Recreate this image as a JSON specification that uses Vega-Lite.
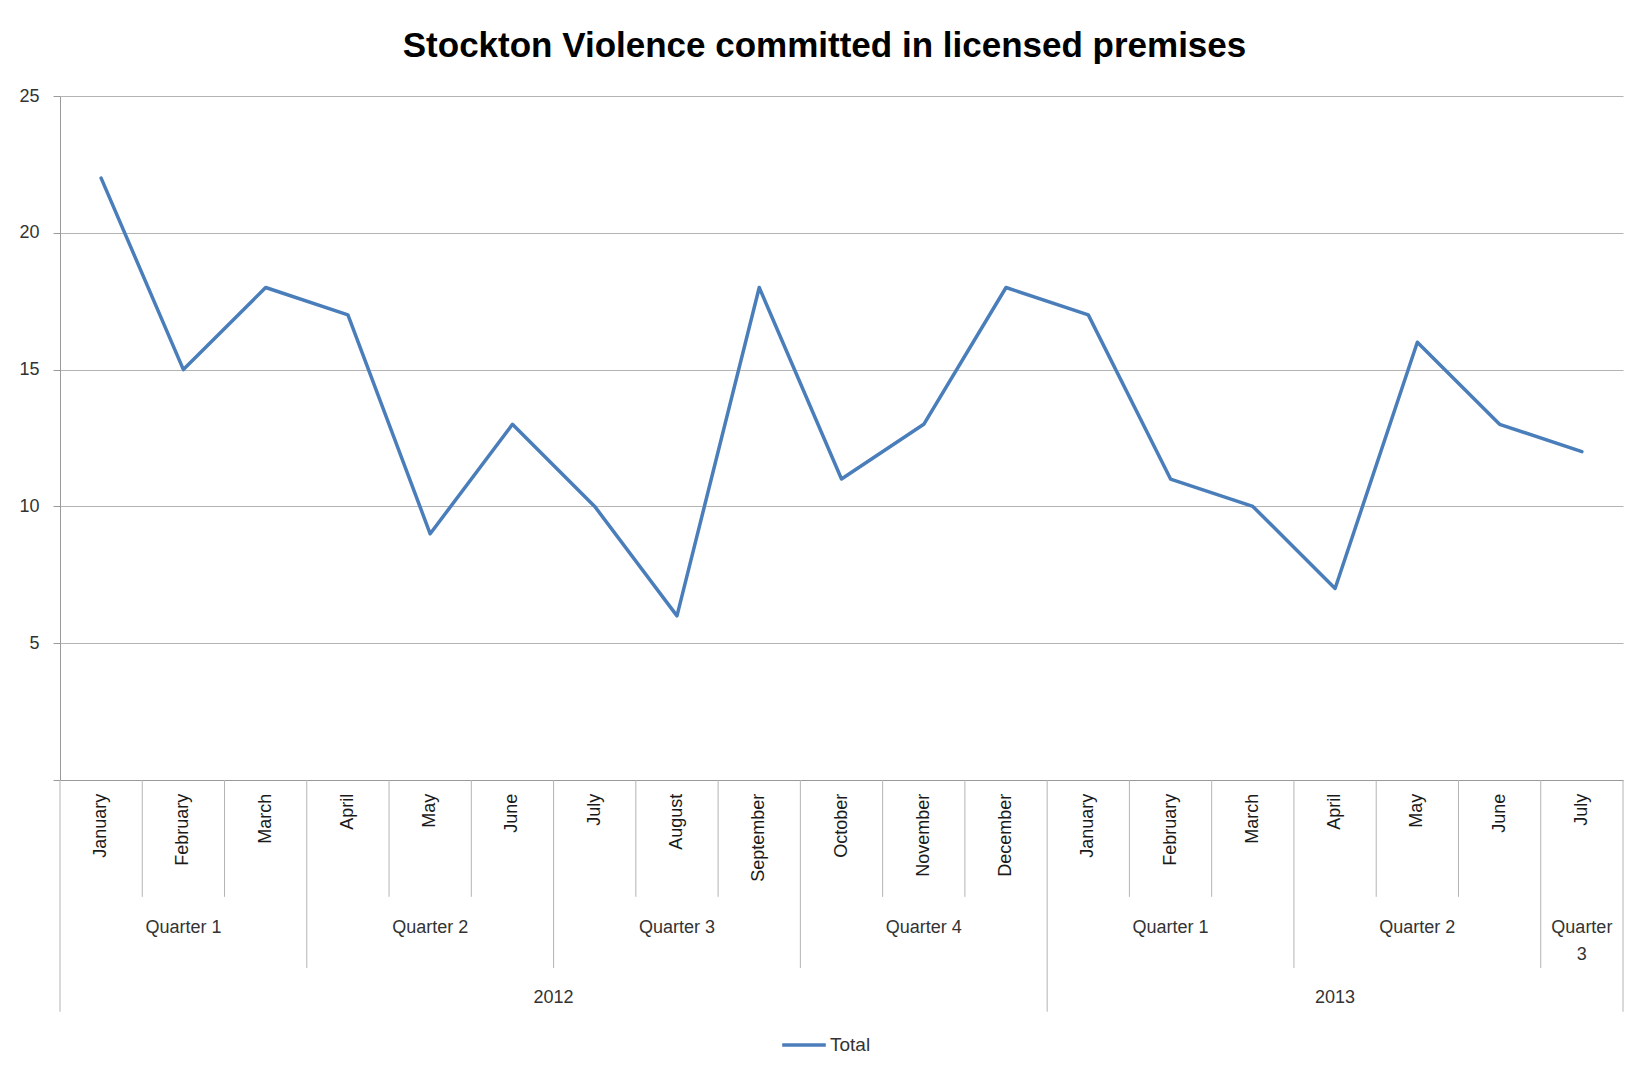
{
  "$schema": "https://vega.github.io/schema/vega-lite/v6.json",
  "autosize": {"type": "none"},
  "width": 1563,
  "height": 684,
  "padding": {"left": 60, "top": 96, "right": 25, "bottom": 296},
  "background": "white",
  "title": {
    "text": "Stockton Violence committed in licensed premises",
    "font": "Liberation Sans Narrow, Liberation Sans",
    "fontSize": 35,
    "fontWeight": "bold",
    "color": "#000000",
    "anchor": "middle",
    "offset": 23,
    "dx": -17
  },
  "config": {
    "view": {"stroke": null},
    "font": "Liberation Sans Narrow, Liberation Sans",
    "text": {"font": "Liberation Sans Narrow, Liberation Sans"}
  },
  "datasets": {
    "months": [
      {"t": 1, "year": 2012, "quarter": "Quarter 1", "month": "January", "total": 22},
      {"t": 2, "year": 2012, "quarter": "Quarter 1", "month": "February", "total": 15},
      {"t": 3, "year": 2012, "quarter": "Quarter 1", "month": "March", "total": 18},
      {"t": 4, "year": 2012, "quarter": "Quarter 2", "month": "April", "total": 17},
      {"t": 5, "year": 2012, "quarter": "Quarter 2", "month": "May", "total": 9},
      {"t": 6, "year": 2012, "quarter": "Quarter 2", "month": "June", "total": 13},
      {"t": 7, "year": 2012, "quarter": "Quarter 3", "month": "July", "total": 10},
      {"t": 8, "year": 2012, "quarter": "Quarter 3", "month": "August", "total": 6},
      {"t": 9, "year": 2012, "quarter": "Quarter 3", "month": "September", "total": 18},
      {"t": 10, "year": 2012, "quarter": "Quarter 4", "month": "October", "total": 11},
      {"t": 11, "year": 2012, "quarter": "Quarter 4", "month": "November", "total": 13},
      {"t": 12, "year": 2012, "quarter": "Quarter 4", "month": "December", "total": 18},
      {"t": 13, "year": 2013, "quarter": "Quarter 1", "month": "January", "total": 17},
      {"t": 14, "year": 2013, "quarter": "Quarter 1", "month": "February", "total": 11},
      {"t": 15, "year": 2013, "quarter": "Quarter 1", "month": "March", "total": 10},
      {"t": 16, "year": 2013, "quarter": "Quarter 2", "month": "April", "total": 7},
      {"t": 17, "year": 2013, "quarter": "Quarter 2", "month": "May", "total": 16},
      {"t": 18, "year": 2013, "quarter": "Quarter 2", "month": "June", "total": 13},
      {"t": 19, "year": 2013, "quarter": "Quarter 3", "month": "July", "total": 12}
    ],
    "quarters": [
      {"year": 2012, "label": "Quarter 1", "mid": 2},
      {"year": 2012, "label": "Quarter 2", "mid": 5},
      {"year": 2012, "label": "Quarter 3", "mid": 8},
      {"year": 2012, "label": "Quarter 4", "mid": 11},
      {"year": 2013, "label": "Quarter 1", "mid": 14},
      {"year": 2013, "label": "Quarter 2", "mid": 17},
      {"year": 2013, "label": "Quarter\n3", "mid": 19}
    ],
    "years": [
      {"label": "2012", "mid": 6.5},
      {"label": "2013", "mid": 16}
    ],
    "bounds": [
      {"b": 0.5, "kind": "year"},
      {"b": 1.5, "kind": "month"},
      {"b": 2.5, "kind": "month"},
      {"b": 3.5, "kind": "quarter"},
      {"b": 4.5, "kind": "month"},
      {"b": 5.5, "kind": "month"},
      {"b": 6.5, "kind": "quarter"},
      {"b": 7.5, "kind": "month"},
      {"b": 8.5, "kind": "month"},
      {"b": 9.5, "kind": "quarter"},
      {"b": 10.5, "kind": "month"},
      {"b": 11.5, "kind": "month"},
      {"b": 12.5, "kind": "year"},
      {"b": 13.5, "kind": "month"},
      {"b": 14.5, "kind": "month"},
      {"b": 15.5, "kind": "quarter"},
      {"b": 16.5, "kind": "month"},
      {"b": 17.5, "kind": "month"},
      {"b": 18.5, "kind": "quarter"},
      {"b": 19.5, "kind": "year"}
    ]
  },
  "layer": [
    {
      "data": {"name": "months"},
      "mark": {"type": "line", "stroke": "#4A7EBB", "strokeWidth": 3.5, "strokeJoin": "round", "strokeCap": "round"},
      "encoding": {
        "x": {
          "field": "t", "type": "quantitative",
          "scale": {"domain": [0.5, 19.5], "nice": false, "zero": false},
          "axis": {"title": null, "labels": false, "ticks": false, "grid": false, "domain": true, "domainColor": "#9a9a9a", "domainWidth": 1}
        },
        "y": {
          "field": "total", "type": "quantitative",
          "scale": {"domain": [0, 25], "nice": false},
          "axis": {
            "title": null, "values": [0, 5, 10, 15, 20, 25],
            "labelExpr": "datum.value == 0 ? '' : datum.label",
            "grid": true, "gridColor": "#b4b4b4", "gridWidth": 1,
            "domainColor": "#9a9a9a", "tickColor": "#9a9a9a", "tickSize": 7,
            "labelFontSize": 18, "labelColor": "#333333", "labelPadding": 14,
            "labelFont": "Liberation Sans Narrow, Liberation Sans"
          }
        },
        "color": {
          "datum": "Total", "type": "nominal",
          "scale": {"range": ["#4A7EBB"]},
          "legend": {
            "title": null, "orient": "none", "legendX": 720, "legendY": 925,
            "symbolType": "stroke", "symbolSize": 1900, "symbolStrokeWidth": 3.5,
            "labelFontSize": 19, "labelColor": "#333333", "labelOffset": 2,
            "labelFont": "Liberation Sans Narrow, Liberation Sans"
          }
        }
      }
    },
    {
      "data": {"name": "bounds"},
      "transform": [{"filter": "datum.kind == 'month'"}],
      "mark": {"type": "rule", "color": "#b4b4b4", "strokeWidth": 1},
      "encoding": {
        "x": {"field": "b", "type": "quantitative"},
        "y": {"datum": 0},
        "y2": {"datum": -4.27}
      }
    },
    {
      "data": {"name": "bounds"},
      "transform": [{"filter": "datum.kind == 'quarter'"}],
      "mark": {"type": "rule", "color": "#b4b4b4", "strokeWidth": 1},
      "encoding": {
        "x": {"field": "b", "type": "quantitative"},
        "y": {"datum": 0},
        "y2": {"datum": -6.87}
      }
    },
    {
      "data": {"name": "bounds"},
      "transform": [{"filter": "datum.kind == 'year'"}],
      "mark": {"type": "rule", "color": "#b4b4b4", "strokeWidth": 1},
      "encoding": {
        "x": {"field": "b", "type": "quantitative"},
        "y": {"datum": 0},
        "y2": {"datum": -8.47}
      }
    },
    {
      "data": {"name": "months"},
      "mark": {"type": "text", "angle": 270, "align": "right", "baseline": "middle", "fontSize": 18, "color": "#1a1a1a"},
      "encoding": {
        "x": {"field": "t", "type": "quantitative"},
        "y": {"datum": -0.5},
        "text": {"field": "month"}
      }
    },
    {
      "data": {"name": "quarters"},
      "mark": {"type": "text", "align": "center", "baseline": "top", "fontSize": 18, "color": "#333333", "lineBreak": "\n", "lineHeight": 27},
      "encoding": {
        "x": {"field": "mid", "type": "quantitative"},
        "y": {"datum": -5.08},
        "text": {"field": "label"}
      }
    },
    {
      "data": {"name": "years"},
      "mark": {"type": "text", "align": "center", "baseline": "top", "fontSize": 18, "color": "#333333"},
      "encoding": {
        "x": {"field": "mid", "type": "quantitative"},
        "y": {"datum": -7.63},
        "text": {"field": "label"}
      }
    }
  ]
}
